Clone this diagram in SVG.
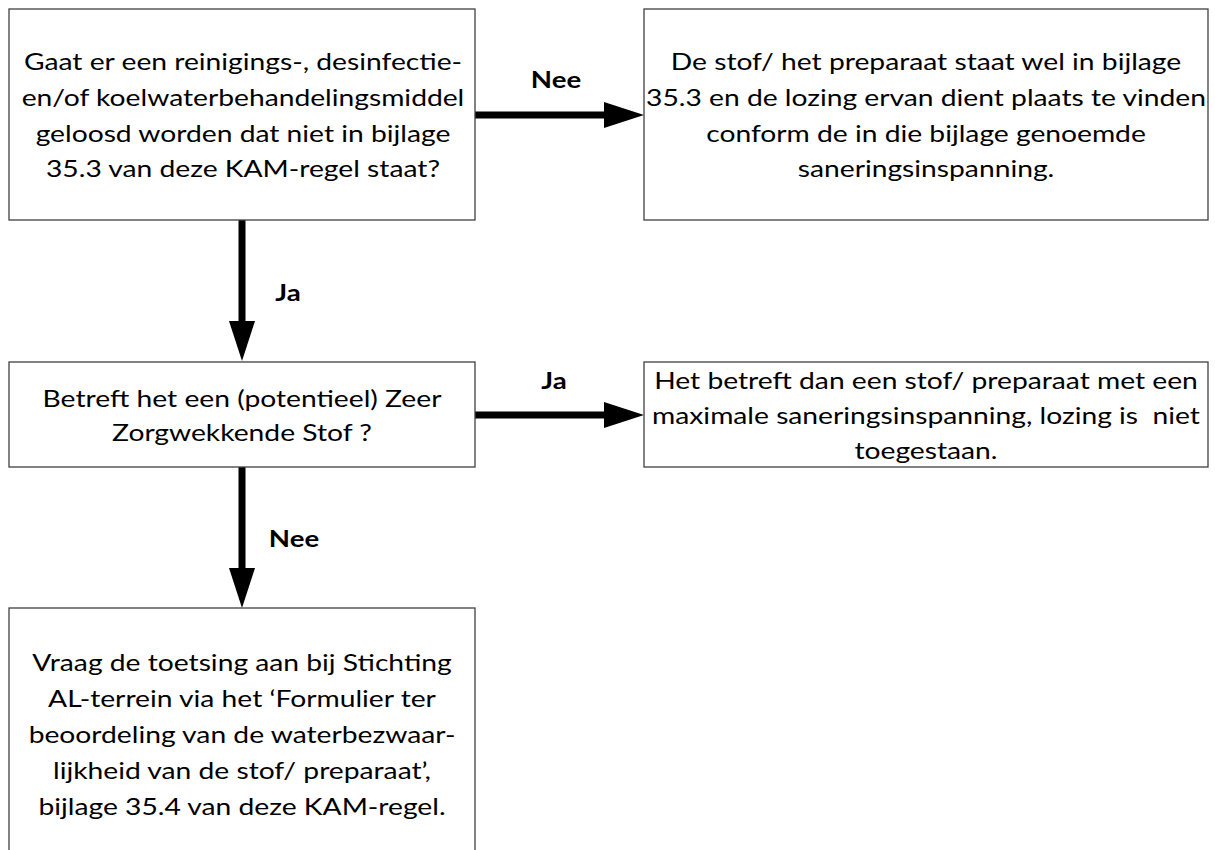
<svg xmlns="http://www.w3.org/2000/svg" width="1215" height="850" viewBox="0 0 1215 850">
<style>
.box{fill:#ffffff;stroke:#404040;stroke-width:1.3}
.t{font-family:Lato,"Open Sans","Liberation Sans",sans-serif;font-size:23px;fill:#000;text-anchor:middle}
.lbl{font-family:Lato,"Open Sans","Liberation Sans",sans-serif;font-size:23px;font-weight:bold;fill:#000;text-anchor:middle}
.conn{stroke:#000;stroke-width:7;stroke-linecap:round;fill:none}
</style>
<defs>
<marker id="ah" viewBox="0 0 40 26" markerWidth="40" markerHeight="26" refX="1" refY="13" orient="auto" markerUnits="userSpaceOnUse">
<path d="M0,0 L40,13 L0,26 z" fill="#000"/>
</marker>
</defs>
<rect width="1215" height="850" fill="#ffffff"/>
<g id="connectors">
<line class="conn" x1="474" y1="115" x2="605" y2="115" marker-end="url(#ah)"/>
<line class="conn" x1="242" y1="221" x2="242" y2="322" marker-end="url(#ah)"/>
<line class="conn" x1="474" y1="415" x2="605" y2="415" marker-end="url(#ah)"/>
<line class="conn" x1="242" y1="468" x2="242" y2="569" marker-end="url(#ah)"/>
<g transform="translate(556,0) scale(1.2,1)"><text class="lbl" x="0" y="88">Nee</text></g>
<g transform="translate(288,0) scale(1.2,1)"><text class="lbl" x="0" y="301">Ja</text></g>
<g transform="translate(554,0) scale(1.2,1)"><text class="lbl" x="0" y="389">Ja</text></g>
<g transform="translate(294,0) scale(1.2,1)"><text class="lbl" x="0" y="547">Nee</text></g>
</g>
<g id="q1">
<rect class="box" x="9" y="9" width="466" height="211"/>
<g transform="translate(243,0) scale(1.227,1)">
<text class="t" x="0" y="70">Gaat er een reinigings-, desinfectie-</text>
<text class="t" x="0" y="106">en/of koelwaterbehandelingsmiddel</text>
<text class="t" x="0" y="142">geloosd worden dat niet in bijlage</text>
<text class="t" x="0" y="177">35.3 van deze KAM-regel staat?</text>
</g>
</g>
<g id="r1">
<rect class="box" x="644" y="9" width="564" height="211"/>
<g transform="translate(926,0) scale(1.227,1)">
<text class="t" x="0" y="70">De stof/ het preparaat staat wel in bijlage</text>
<text class="t" x="0" y="106">35.3 en de lozing ervan dient plaats te vinden</text>
<text class="t" x="0" y="142">conform de in die bijlage genoemde</text>
<text class="t" x="0" y="177">saneringsinspanning.</text>
</g>
</g>
<g id="q2">
<rect class="box" x="9" y="362" width="466" height="105"/>
<g transform="translate(242,0) scale(1.227,1)">
<text class="t" x="0" y="407">Betreft het een (potentieel) Zeer</text>
<text class="t" x="0" y="441">Zorgwekkende Stof ?</text>
</g>
</g>
<g id="r2">
<rect class="box" x="644" y="362" width="564" height="105"/>
<g transform="translate(926,0) scale(1.227,1)">
<text class="t" x="0" y="389">Het betreft dan een stof/ preparaat met een</text>
<text class="t" x="0" y="424" xml:space="preserve">maximale saneringsinspanning, lozing is  niet</text>
<text class="t" x="0" y="459">toegestaan.</text>
</g>
</g>
<g id="r3">
<rect class="box" x="9" y="608" width="466" height="300"/>
<g transform="translate(242,0) scale(1.227,1)">
<text class="t" x="0" y="671">Vraag de toetsing aan bij Stichting</text>
<text class="t" x="0" y="707">AL-terrein via het ‘Formulier ter</text>
<text class="t" x="0" y="743">beoordeling van de waterbezwaar-</text>
<text class="t" x="0" y="779">lijkheid van de stof/ preparaat’,</text>
<text class="t" x="0" y="815">bijlage 35.4 van deze KAM-regel.</text>
</g>
</g>
</svg>
